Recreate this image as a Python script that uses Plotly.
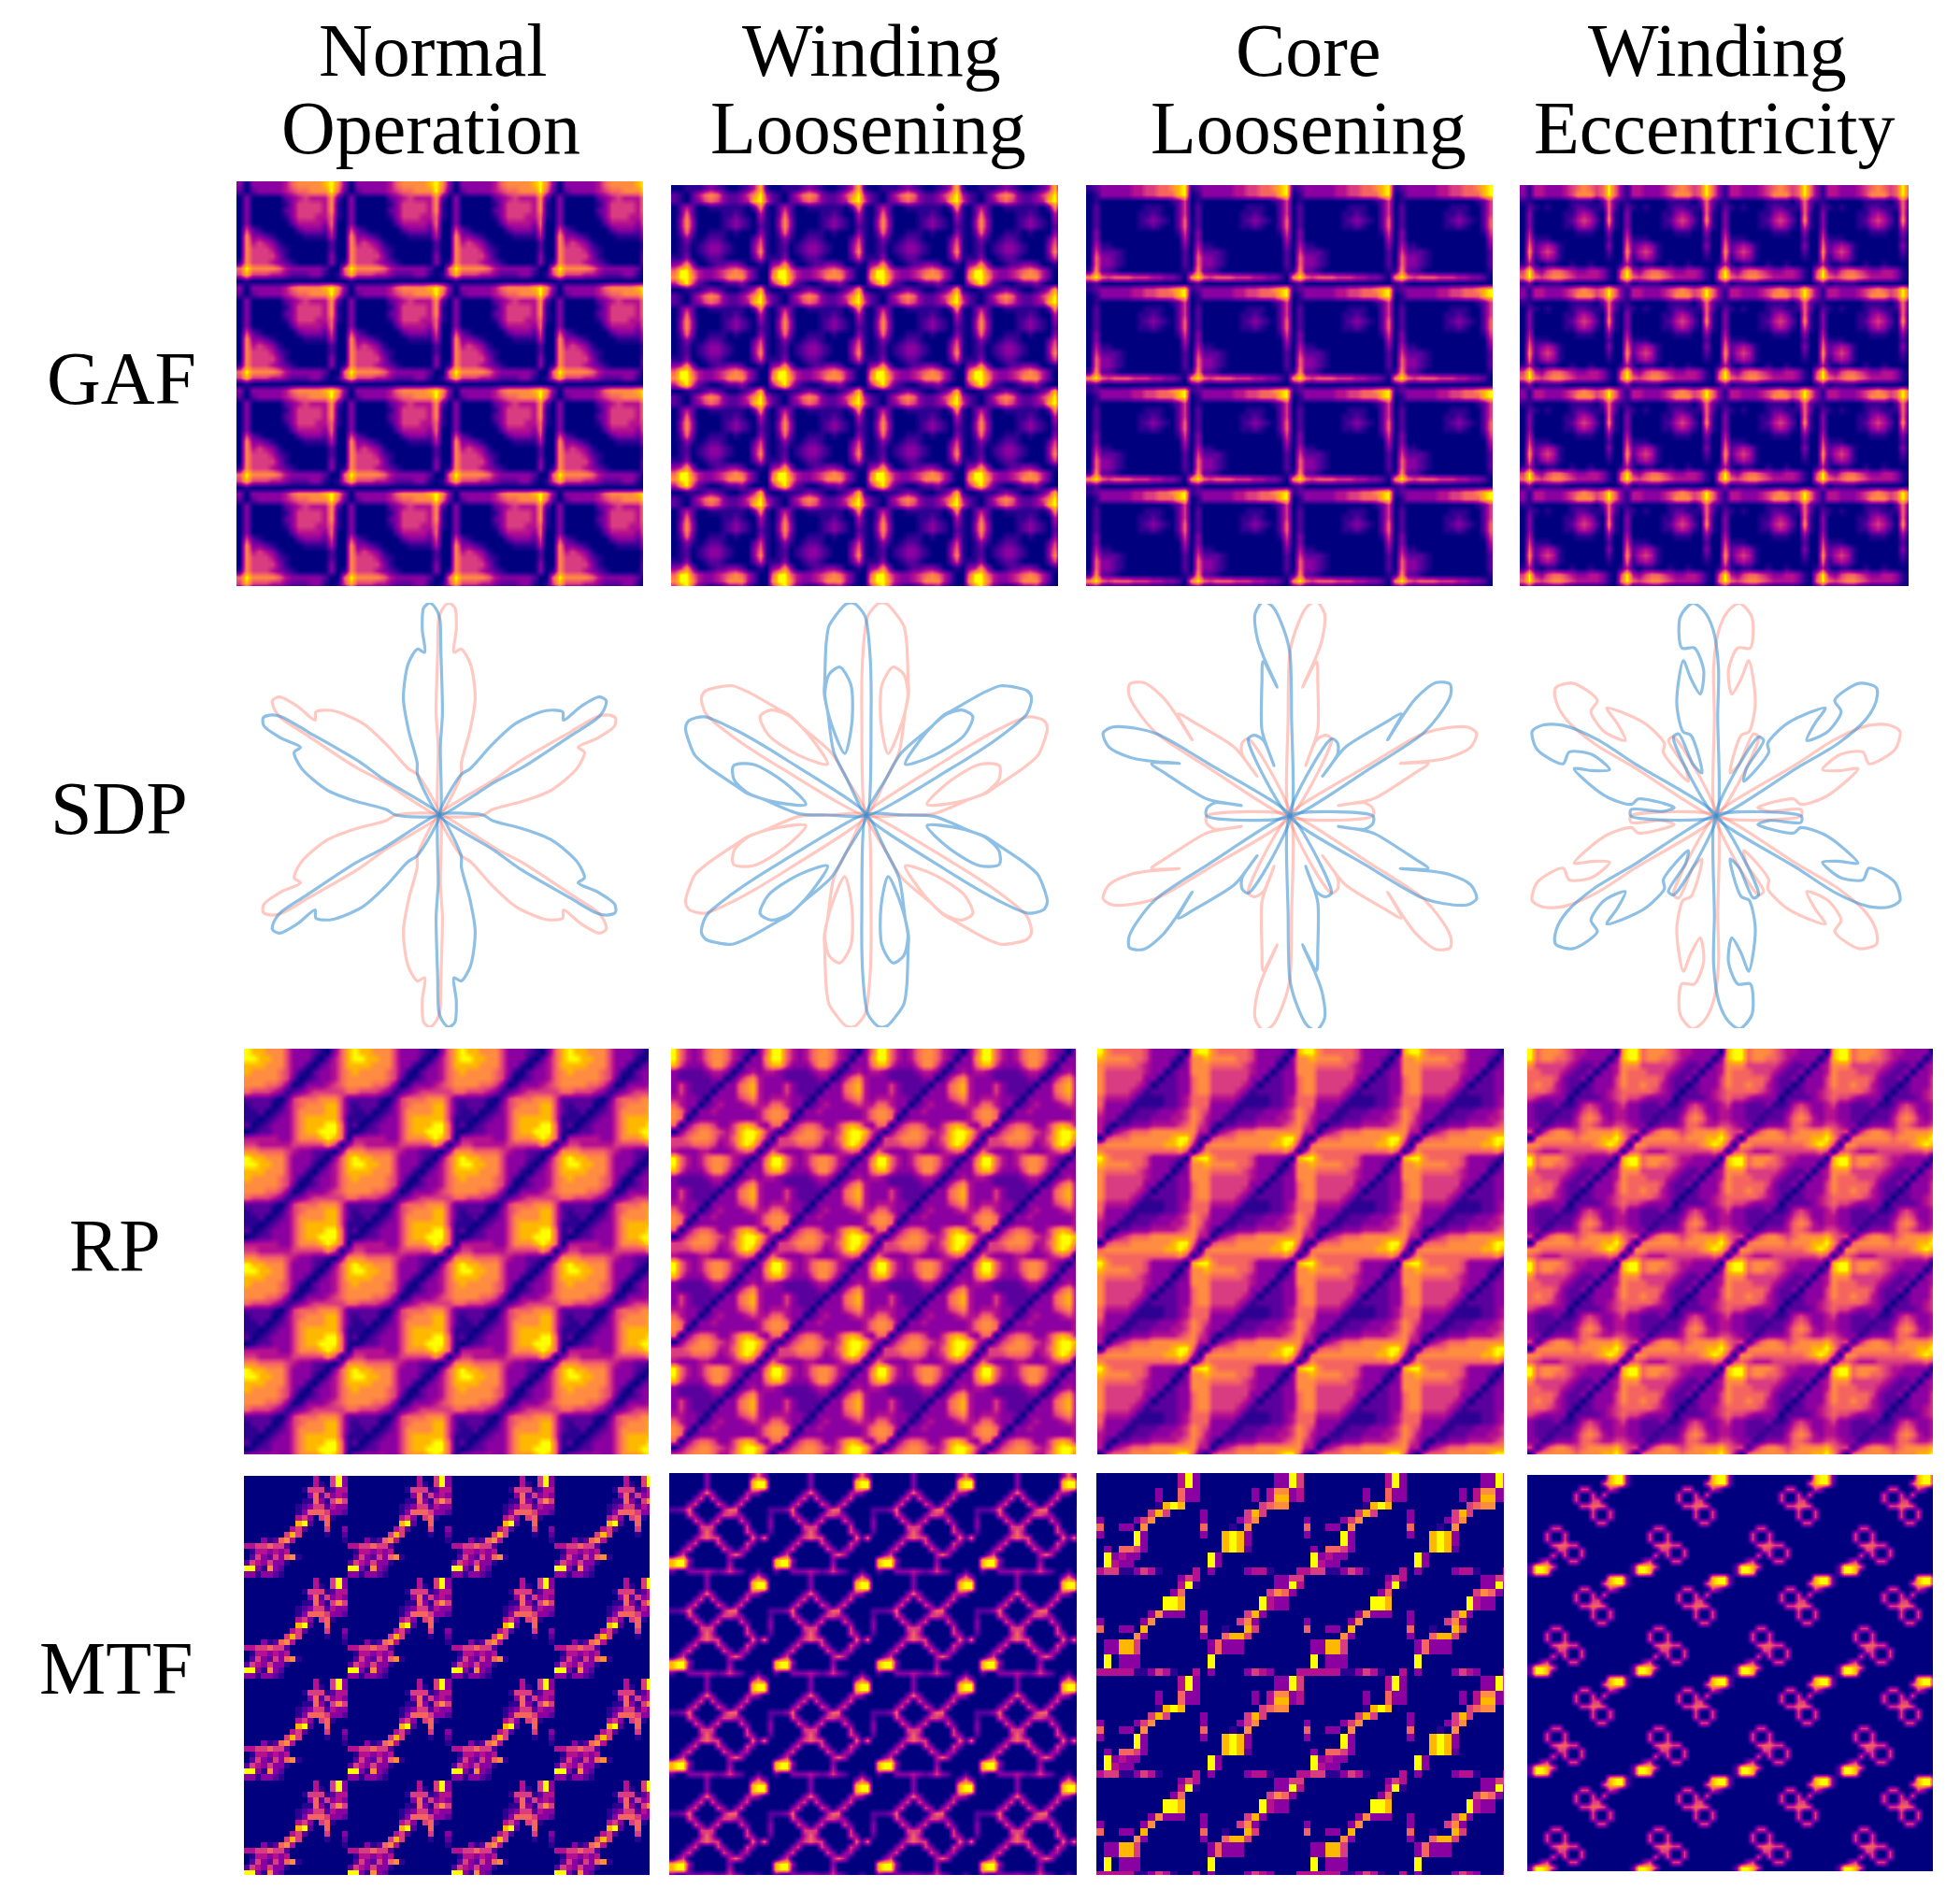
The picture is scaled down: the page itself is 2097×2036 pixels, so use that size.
import numpy as np
import plotly.graph_objects as go

W, H = 2097, 2036
PAGE_MARGIN = 8  # the browser's body margin pushes the figure in by this much

# heatmap values, one repeating tile per panel (0 = navy ... 9 = yellow)
gaf_normal = [
    "3033333467777897", "2023333456677796", "0300000234544472", "0300000135555471",
    "0300000235555471", "0300000135554461", "0300000024444360", "0521000002333250",
    "0733210000111140", "0745431000000020", "0755542100000020", "0755553100000030",
    "1755543210000030", "6977776433333200", "5855544322233101", "0100000000000000",
]
gaf_winding = [
    "0011123210012481", "2102467632235794", "2102356532234895", "0242001111110271",
    "0262000011210041", "0373000012321031", "0373000012321021", "0262001110100031",
    "0131012210000251", "0120123321000361", "0120123321000371", "1130012210000251",
    "3473001223320010", "6996433456764200", "7997433457774200", "4795210012231000",
]
gaf_core = [
    "1233333445566789", "0133333445566689", "0100000000000125", "0200000001110025",
    "0200000011210025", "0200000012321026", "0200000011210026", "0300000000000015",
    "0300000000000004", "0411000000000003", "0522210000000002", "0633210000000002",
    "0633210000000002", "1722100000000001", "7965666555443320", "1200000000000000",
]
gaf_ecc = [
    "3144333456765696", "3144333457775696", "1100000011110262", "0210100012211162",
    "0300000113431061", "0300000124542071", "0300000113431051", "0400000001110030",
    "0511100000000020", "0623431000000030", "0724541000000020", "0613431000000010",
    "1410110010010000", "5943566543344310", "6965677654444310", "1301111000000000",
]
rp_normal = [
    "9887775333210368", "9988775333102468", "8887775331023468", "8777765310233467",
    "7777765201233467", "7776653013334567", "6555431234555556", "2222102566677752",
    "1222013567778852", "1120123577778852", "1101233578888851", "2012333578889961",
    "0122333578899961", "4444433577789860", "5544444555557503", "7766665433221037",
]
rp_winding = [
    "9643467764320369", "9643467764303379", "8533357753033368", "3222234430234344",
    "3222223302467433", "3532222033678433", "3532220333678433", "4433203333567434",
    "6433023433345446", "7630334333333467", "7602333333333467", "6035665335787436",
    "0356776545899853", "5567776446899740", "5556665345898503", "4333443334565036",
]
rp_core = [
    "9766666533332089", "8777766533320377", "7666665433302377", "7555555433023377",
    "7555555330223367", "7555554302223367", "7555543122223367", "6444431111223466",
    "6333311111223466", "5333112223334576", "4331122233344576", "4202233344445675",
    "4034566677777774", "0566677777789962", "6777777777889840", "7666666666667504",
]
rp_ecc = [
    "9677765443333089", "9677665433330389", "7555554322303477", "6655543223033476",
    "6666532230333576", "6766432202333576", "6665432022334566", "5433330222234565",
    "3222311245433453", "3222122356533443", "3221222467643443", "3312333466544554",
    "5146776567777865", "0677777677788974", "7766666666789850", "6544455555556505",
]
mtf_normal = [
    "000000000000400593", "000000000000410593", "000000000015551244", "000000000003625343",
    "000000000011631575", "000000000123552433", "000000000136665332", "000000000453056100",
    "000000000892006000", "000000004520005003", "000000058500001002", "000312674000000001",
    "445565520000000000", "014434340000000000", "025325367100000000", "254353310000000000",
    "993173200000000000", "331332100000000000",
]
mtf_winding = [
    "000000300000003630", "000000300000008990", "000000300000008990", "000003630000044300",
    "000035052000350000", "000350005303500000", "223600000466000002", "000530003554300002",
    "000053035000520003", "000005550000050003", "000004640000053002", "000035655000006260",
    "000350005300053000", "003500000530340000", "035000000046400000", "899300000030000000",
    "899200000040000000", "200333432353200200",
]
mtf_core = [
    "0000000000049300000000003395", "0000000000049300000000003395",
    "0000000030063300000003047734", "0000000030063300000003048834",
    "0000000018980000000000567700", "0000000585000030000058500000",
    "3000035700000030000357000000", "6003307000000060001070000000",
    "3000093000000030089830000000", "0000093000000000089830000000",
    "0306653000000000089820000000", "0934330000000009300000000000",
    "0943300000000009300000000000", "4551135410000403000034410004",
    "0000000000035400000000003355", "0000000000049100000000003394",
    "0000000000360000000000057630", "0000000009980000000000943300",
    "0000000009980000000000943300", "0000000373330030000058300000",
    "3000003700000030000573000000", "6003308000000060010085000000",
    "0000073000000030068850000000", "0338850000000003633300000000",
    "0338850000000003633300000000", "0903330000000009000000000000",
    "0903330000000009000000000000", "4444411354100403000035430004",
]
mtf_ecc = [
    "000000000000008992", "000000000000058992", "000000000550005300", "000000005005050000",
    "000000005005500000", "000000000556650000", "000000000005005000", "000000000005005000",
    "000000000000550000", "000055000000000000", "000500500000000000", "000500500000000000",
    "000056655000000000", "000005500500000000", "000050500500000000", "003500055000000000",
    "299850000000000000", "299800000000000000",
]

# SDP petal outlines: radius and angle away from the mirror axis (degrees)
sdp_normal_r = [0, .33, .48, .77, .92, .97, 1.0, .98, .88, .77, .79, .73, .58, .43, .27, .22, 0]
sdp_normal_off = [0, -1, -1.9, -.6, -.2, .9, 2.7, 4.6, 5.6, 5.5, 8, 12.4, 18.2, 21.2, 24.4, 30, 30]
sdp_winding_r = [0, .48, .78, .94, 1.0, 1.0, .96, .91, .83, .66, .61, .47, .31, .44, .62, .71, .69, .61, .52, .34, .2, 0]
sdp_winding_off = [0, -2.8, -1.2, .5, 3.6, 5.9, 8.9, 12, 14.2, 18.6, 20.4, 22.4, 20.7, 9.6, 7.3, 10.9, 15.8, 20.1, 22, 29, 30, 30]
sdp_core_r = [0, .48, .77, .88, .99, 1.02, .97, .85, .76, .61, .74, .65, .435, .375, .25, .38, .42, .42, 0]
sdp_core_off = [0, -1, 0, 2, 5, 7.5, 10.4, 11.1, 10, 6, 10.5, 12.5, 19, 19.6, 18.6, 20.5, 25, 30, 30]
sdp_ecc_r = [0, .48, .70, .88, .97, 1.01, .955, .81, .80, .69, .58, .66, .75, .66, .55, .43, .40, .215, .27, .43, .43, 0]
sdp_ecc_off = [0, -1, -1, 1, 3.7, 6.7, 10.9, 12.3, 7.9, 5.2, 7.9, 11.1, 12.7, 16.7, 21, 22.7, 18.4, 19.3, 25.5, 26, 30, 30]
petal_axes = [0, 60, 120, 180, 240, 300]

column_lines = [("Normal", "Operation"), ("Winding", "Loosening"), ("Core", "Loosening"), ("Winding", "Eccentricity")]
row_labels = ["GAF", "SDP", "RP", "MTF"]

scale_colors = ["#00007f", "#2c0090", "#5a009c", "#8a00a0", "#b4108f",
                "#d93c80", "#f5655f", "#ff8c40", "#ffb800", "#ffff00"]
blue = "rgba(60,145,210,0.58)"
red = "rgba(255,140,125,0.48)"

# pixel boxes in the page: left, right, top, bottom
gaf_boxes = [(253, 688, 194, 627), (718, 1132, 198, 627), (1162, 1597, 198, 627), (1626, 2042, 198, 627)]
sdp_boxes = [(258, 682, 645, 1099), (715, 1139, 645, 1099), (1168, 1592, 646, 1100), (1624, 2048, 646, 1100)]
rp_boxes = [(261, 694, 1122, 1556), (718, 1151, 1122, 1556), (1174, 1609, 1122, 1556), (1634, 2068, 1122, 1556)]
mtf_boxes = [(261, 695, 1579, 2006), (716, 1152, 1576, 2006), (1173, 1609, 1576, 2006), (1634, 2068, 1578, 2002)]
title_xs = [(463, 461), (932, 929), (1400, 1400), (1837, 1834)]
title_ys = (54, 137)
row_xs = [130, 127, 123, 124]
row_ys = [405, 865, 1333, 1785]

fig = go.Figure()
layout_axes = {}
count = 0


def px_x(x):
    return (x - PAGE_MARGIN) / W


def px_y(y):
    return 1 - (y - PAGE_MARGIN) / H


def add_axes(box, xr, yr):
    global count
    count += 1
    left, right, top, bottom = box
    suffix = "" if count == 1 else str(count)
    layout_axes["xaxis" + suffix] = dict(domain=[px_x(left), px_x(right)], range=xr, visible=False, fixedrange=True)
    layout_axes["yaxis" + suffix] = dict(domain=[px_y(bottom), px_y(top)], range=yr, visible=False, fixedrange=True)
    return "x" + suffix, "y" + suffix


def add_tile(tile, box, reps_x, reps_y, smooth):
    z = np.array([[int(c) for c in row] for row in tile])
    n_rows, n_cols = z.shape
    full = np.tile(z, (int(np.ceil(reps_y)), int(np.ceil(reps_x))))
    xa, ya = add_axes(box, [-0.5, n_cols * reps_x - 0.5], [n_rows * reps_y - 0.5, -0.5])
    fig.add_trace(go.Heatmap(
        z=full, xaxis=xa, yaxis=ya, zmin=0, zmax=9, showscale=False,
        zsmooth=smooth,
        colorscale=[[i / 9, c] for i, c in enumerate(scale_colors)],
    ))


def add_sdp(r, off, box):
    xa, ya = add_axes(box, [-1, 1], [-1, 1])
    r = np.array(r)
    off = np.array(off)
    # red arm sits clockwise of each axis, blue counter clockwise
    for sign, color in ((1, red), (-1, blue)):
        xs, ys = [], []
        for axis in petal_axes:
            t = np.radians(axis + sign * off)
            xs += list(r * np.sin(t)) + [None]
            ys += list(r * np.cos(t)) + [None]
        fig.add_trace(go.Scatter(x=xs, y=ys, xaxis=xa, yaxis=ya, mode="lines", showlegend=False,
                                 cliponaxis=False,
                                 line=dict(color=color, width=3.2, shape="spline", smoothing=0.8)))


for tile, box, rx, ry in zip([gaf_normal, gaf_winding, gaf_core, gaf_ecc], gaf_boxes,
                             [3.89, 3.94, 3.99, 3.97], [3.93, 3.96, 3.96, 3.96]):
    add_tile(tile, box, rx, ry, "best")
for r, off, box in zip([sdp_normal_r, sdp_winding_r, sdp_core_r, sdp_ecc_r],
                       [sdp_normal_off, sdp_winding_off, sdp_core_off, sdp_ecc_off], sdp_boxes):
    add_sdp(r, off, box)
for tile, box, rx, ry in zip([rp_normal, rp_winding, rp_core, rp_ecc], rp_boxes,
                             [3.77, 3.85, 3.85, 3.85], [3.83, 3.85, 3.85, 3.85]):
    add_tile(tile, box, rx, ry, "best")
for tile, box, rx, ry, smooth in zip([mtf_normal, mtf_winding, mtf_core, mtf_ecc], mtf_boxes,
                                     [3.92, 3.94, 1.97, 3.95], [3.94, 3.97, 1.98, 3.95],
                                     [False, "best", False, "best"]):
    add_tile(tile, box, rx, ry, smooth)

annotations = []
font = dict(family="Liberation Serif", size=80, color="black")
for lines, xs in zip(column_lines, title_xs):
    for text, x, y in zip(lines, xs, title_ys):
        annotations.append(dict(text=text, x=px_x(x), y=px_y(y), xref="paper", yref="paper",
                                xanchor="center", yanchor="middle", showarrow=False, font=font))
for text, x, y in zip(row_labels, row_xs, row_ys):
    annotations.append(dict(text=text, x=px_x(x), y=px_y(y), xref="paper", yref="paper",
                            xanchor="center", yanchor="middle", showarrow=False, font=font))

fig.update_layout(width=W, height=H, margin=dict(l=0, r=0, t=0, b=0), plot_bgcolor="white",
                  paper_bgcolor="white", showlegend=False, annotations=annotations, **layout_axes)
fig.write_html("out.html")
